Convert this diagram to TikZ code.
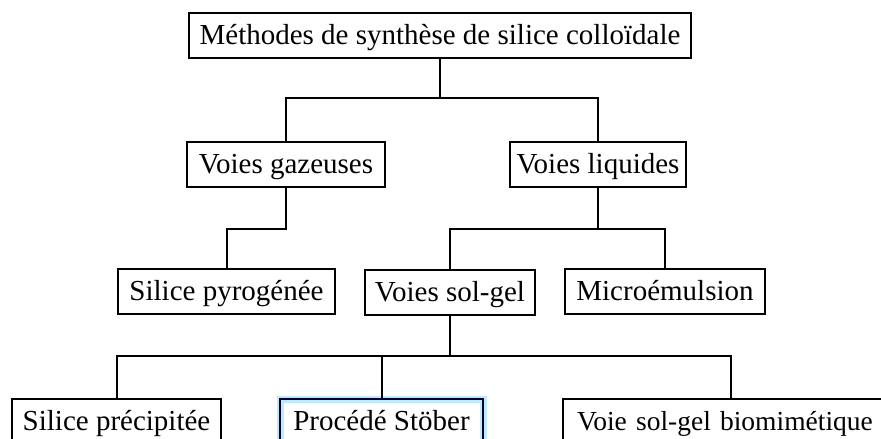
\documentclass[tikz,border=0pt]{standalone}
\usepackage{fontspec}
\setmainfont{Liberation Serif}
\usepackage{tikz}
\tikzset{
every picture/.style={line width=2pt}
}
\tikzset{
  box/.style={draw, inner sep=0pt, minimum height=45pt,
    text height=20pt, text depth=2pt,
    font=\fontsize{29}{33}\selectfont},
  glow/.style={box, draw=black!80!blue,
    preaction={draw=cyan!25, line width=7pt}}
}

\begin{document}
\begin{tikzpicture}[x=1pt, y=-1pt]
  \clip (0,0) rectangle (881,439);
  % level 1
  \node[box, minimum width=502pt] (meth) at (440,35.5) {Méthodes de synthèse de silice colloïdale};
  % level 2
  \node[box, minimum width=198pt] (gaz) at (286,164.5) {Voies gazeuses};
  \node[box, minimum width=176pt] (liq) at (598,164.5) {Voies liquides};
  % level 3
  \node[box, minimum width=217pt] (pyro) at (226.5,291) {Silice pyrogénée};
  \node[box, minimum width=170pt] (solgel) at (450,292) {Voies sol-gel};
  \node[box, minimum width=200pt] (micro) at (665,291) {Microémulsion};
  % level 4
  \node[box, minimum width=209pt] (prec) at (116.5,421.5) {Silice précipitée};
  \node[glow, minimum width=203pt] (stober) at (381.5,421.5) {Procédé Stöber};
  \node[box, inner xsep=14pt, text width=308pt, align=left,
    font=\fontsize{27.5}{31}\selectfont] (bio) at (731,421.5) {Voie sol-gel biomimétique};

  \draw (meth.south) -- ++(0,39) -| (gaz.north);
  \draw (meth.south) -- ++(0,39) -| (liq.north);
  \draw (gaz.south) -- ++(0,41) -| (pyro.north);
  \draw (liq.south) -- ++(0,41) -| (solgel.north);
  \draw (liq.south) -- ++(0,41) -| (micro.north);
  \foreach \n in {prec, stober, bio} {
    \draw (solgel.south) -- ++(0,40) -| (\n.north);
  }
\end{tikzpicture}
\end{document}
